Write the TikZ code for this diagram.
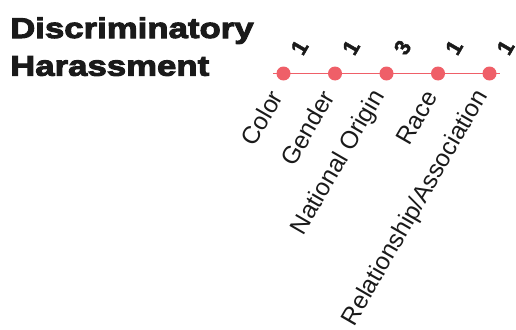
\documentclass[tikz,border=0pt]{standalone}
\usepackage{fontspec}
\setmainfont{Liberation Sans}
\newfontfamily\titlefont[FakeStretch=1.22,RawFeature={embolden=3.5}]{Liberation Sans Bold}
\newfontfamily\numfont[RawFeature={embolden=2}]{Liberation Sans Bold}
\definecolor{dotred}{HTML}{EF5F68}
\definecolor{ink}{HTML}{1A1A1A}
\tikzset{
  titletext/.style={anchor=base west, inner sep=0pt, text=ink, font=\titlefont\fontsize{28.5}{34}\selectfont},
  dotnode/.style={circle, fill=dotred, inner sep=0pt, minimum size=14pt},
  countlabel/.style={rotate=60, inner sep=0pt, text=ink, font=\numfont\fontsize{22}{24}\selectfont},
  catlabel/.style={rotate=60, anchor=east, inner sep=0pt, text=ink, font=\fontsize{24.5}{26}\selectfont},
}
\begin{document}
\begin{tikzpicture}[x=1pt,y=-1pt]
\useasboundingbox (0,0) rectangle (516,329);
\node[titletext] (t1) at (10,38) {Discriminatory};
\node[titletext] (t2) at (10,75.7) {Harassment};
\coordinate (ls) at (273,73.5);
\coordinate (le) at (500,73.5);
\draw[dotred, line width=1pt] (ls) -- (le);
\foreach \x/\n/\lab [count=\i] in {283.5/1/Color, 335/1/Gender, 386.5/3/National Origin, 438/1/Race, 489.5/1/Relationship\slash Association}{
  \node[dotnode] (d\i) at (\x,73.5) {};
  \node[countlabel] (c\i) at ([shift={(16,-26)}]d\i.center) {\n};
  \node[catlabel] (l\i) at ([shift={(-7,19)}]d\i.center) {\lab};
}
\end{tikzpicture}
\end{document}
